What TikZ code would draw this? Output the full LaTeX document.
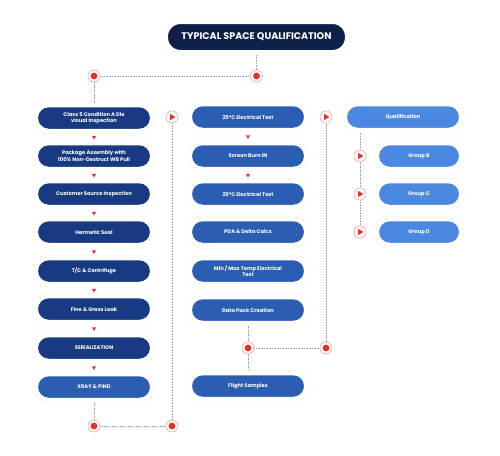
\documentclass[tikz,border=0pt]{standalone}
\usepackage{fontspec}
\setmainfont{Poppins}
\usetikzlibrary{calc,shadows,shapes.geometric}

\definecolor{titlenavy}{HTML}{0F2048}
\definecolor{stepnavy}{HTML}{173A82}
\definecolor{stepblue}{HTML}{2B5DB3}
\definecolor{steplight}{HTML}{4A88E2}
\definecolor{dotred}{HTML}{E5312B}
\definecolor{ringred}{HTML}{F2A8A3}

\tikzset{
    stepbox/.style={rounded corners=13pt, minimum width=117pt, minimum height=26.5pt,
        inner sep=1pt, align=center, text=white, draw=white, line width=5pt,
        font=\fontsize{5.2}{6.6}\selectfont\bfseries,
        drop shadow={shadow xshift=1.6pt, shadow yshift=-1.8pt, opacity=.12, fill=black},
        preaction={draw=gray!12, line width=6pt}},
    dot/.style={circle, draw=ringred, line width=.6pt, fill=white, minimum size=12pt, inner sep=0pt,
        path picture={\fill[dotred] (path picture bounding box.center) circle (3.4pt);}},
    play/.style={circle, draw=ringred, line width=.6pt, fill=white, minimum size=12pt, inner sep=0pt,
        path picture={\fill[dotred] ([shift={(-2pt,3.2pt)}]path picture bounding box.center)
            -- ([shift={(3.4pt,0pt)}]path picture bounding box.center)
            -- ([shift={(-2pt,-3.2pt)}]path picture bounding box.center) -- cycle;}},
    tri/.style={regular polygon, regular polygon sides=3, shape border rotate=180,
        minimum size=5pt, inner sep=0pt, fill=dotred},
    link/.style={gray!75, densely dotted, line width=.6pt}
}

\begin{document}
\begin{tikzpicture}[x=1pt,y=-1pt]
    \useasboundingbox (0,0) rectangle (500,455);

    % title
    \node[stepbox, fill=titlenavy, minimum width=182pt, minimum height=31pt, rounded corners=15pt,
        font=\fontsize{9.6}{11}\selectfont\bfseries] (title) at (256.5,37) {TYPICAL SPACE QUALIFICATION};

    % first column
    \node[stepbox, fill=stepnavy] (a1) at (94,118) {Class 5 Condition A Die\\visual Inspection};
    \node[stepbox, fill=stepnavy] (a2) at (94,156) {Package Assembly with\\100\% Non-Destruct WB Pull};
    \node[stepbox, fill=stepnavy] (a3) at (94,194) {Customer Source Inspection};
    \node[stepbox, fill=stepnavy] (a4) at (94,232) {Hermetic Seal};
    \node[stepbox, fill=stepnavy] (a5) at (94,271) {T/C \& Centrifuge};
    \node[stepbox, fill=stepnavy] (a6) at (94,309) {Fine \& Gross Leak};
    \node[stepbox, fill=stepnavy] (a7) at (94,348) {SERIALIZATION};
    \node[stepbox, fill=stepblue] (a8) at (94,387) {XRAY \& PIND};

    % second column
    \node[stepbox, fill=stepblue] (b1) at (248,117) {25°C Electrical Test};
    \node[stepbox, fill=stepblue] (b2) at (248,156) {Screen Burn IN};
    \node[stepbox, fill=stepblue] (b3) at (248,194) {25°C Electrical Test};
    \node[stepbox, fill=stepblue] (b4) at (248,232) {PDA \& Delta Calcs};
    \node[stepbox, fill=stepblue] (b5) at (248,271) {Min / Max Temp Electrical\\Test};
    \node[stepbox, fill=stepblue] (b6) at (248,310) {Data Pack Creation};
    \node[stepbox, fill=stepblue] (b7) at (248,386) {Flight Samples};

    % third column
    \node[stepbox, fill=steplight] (q) at (403,117) {Qualification};
    \node[stepbox, fill=steplight, minimum width=85pt] (g1) at (419,156) {Group B};
    \node[stepbox, fill=steplight, minimum width=85pt] (g2) at (419,194) {Group C};
    \node[stepbox, fill=steplight, minimum width=85pt] (g3) at (419,232) {Group D};

    % dots and play marks
    \node[dot] (d0) at (256.5,76) {};
    \node[dot] (d1) at (94,76) {};
    \node[dot] (d2) at (94,426) {};
    \node[dot] (d3) at (172,426) {};
    \node[dot] (d4) at (248,348) {};
    \node[dot] (d5) at (326,348) {};
    \node[play] (p1) at (172,117) {};
    \node[play] (p2) at (326,117) {};
    \node[play] (pb) at (360,156) {};
    \node[play] (pc) at (360,194) {};
    \node[play] (pd) at (360,232) {};

    % dotted links
    \draw[link] (title) -- (d0);
    \draw[link] (d0) -- (d1);
    \draw[link] (d1) -- (a1);
    \draw[link] (a8) -- (d2);
    \draw[link] (d2) -- (d3);
    \draw[link] (d3) -- (p1);
    \draw[link] (b6) -- (d4);
    \draw[link] (d4) -- (b7);
    \draw[link] (d4) -- (d5);
    \draw[link] (d5) -- (p2);
    \draw[link] (pb |- q.south) -- (pb);
    \draw[link] (pb) -- (pc);
    \draw[link] (pc) -- (pd);

    % small arrow marks
    \node[tri] (t1) at ($(a1.south)!.5!(a2.north)$) {};
    \node[tri] (t2) at ($(a2.south)!.5!(a3.north)$) {};
    \node[tri] (t3) at ($(a3.south)!.5!(a4.north)$) {};
    \node[tri] (t4) at ($(a4.south)!.5!(a5.north)$) {};
    \node[tri] (t5) at ($(a5.south)!.5!(a6.north)$) {};
    \node[tri] (t6) at ($(a6.south)!.5!(a7.north)$) {};
    \node[tri] (t7) at ($(a7.south)!.5!(a8.north)$) {};
    \node[tri] (t8) at ($(b1.south)!.5!(b2.north)$) {};
    \node[tri] (t9) at ($(b2.south)!.5!(b3.north)$) {};
\end{tikzpicture}
\end{document}
